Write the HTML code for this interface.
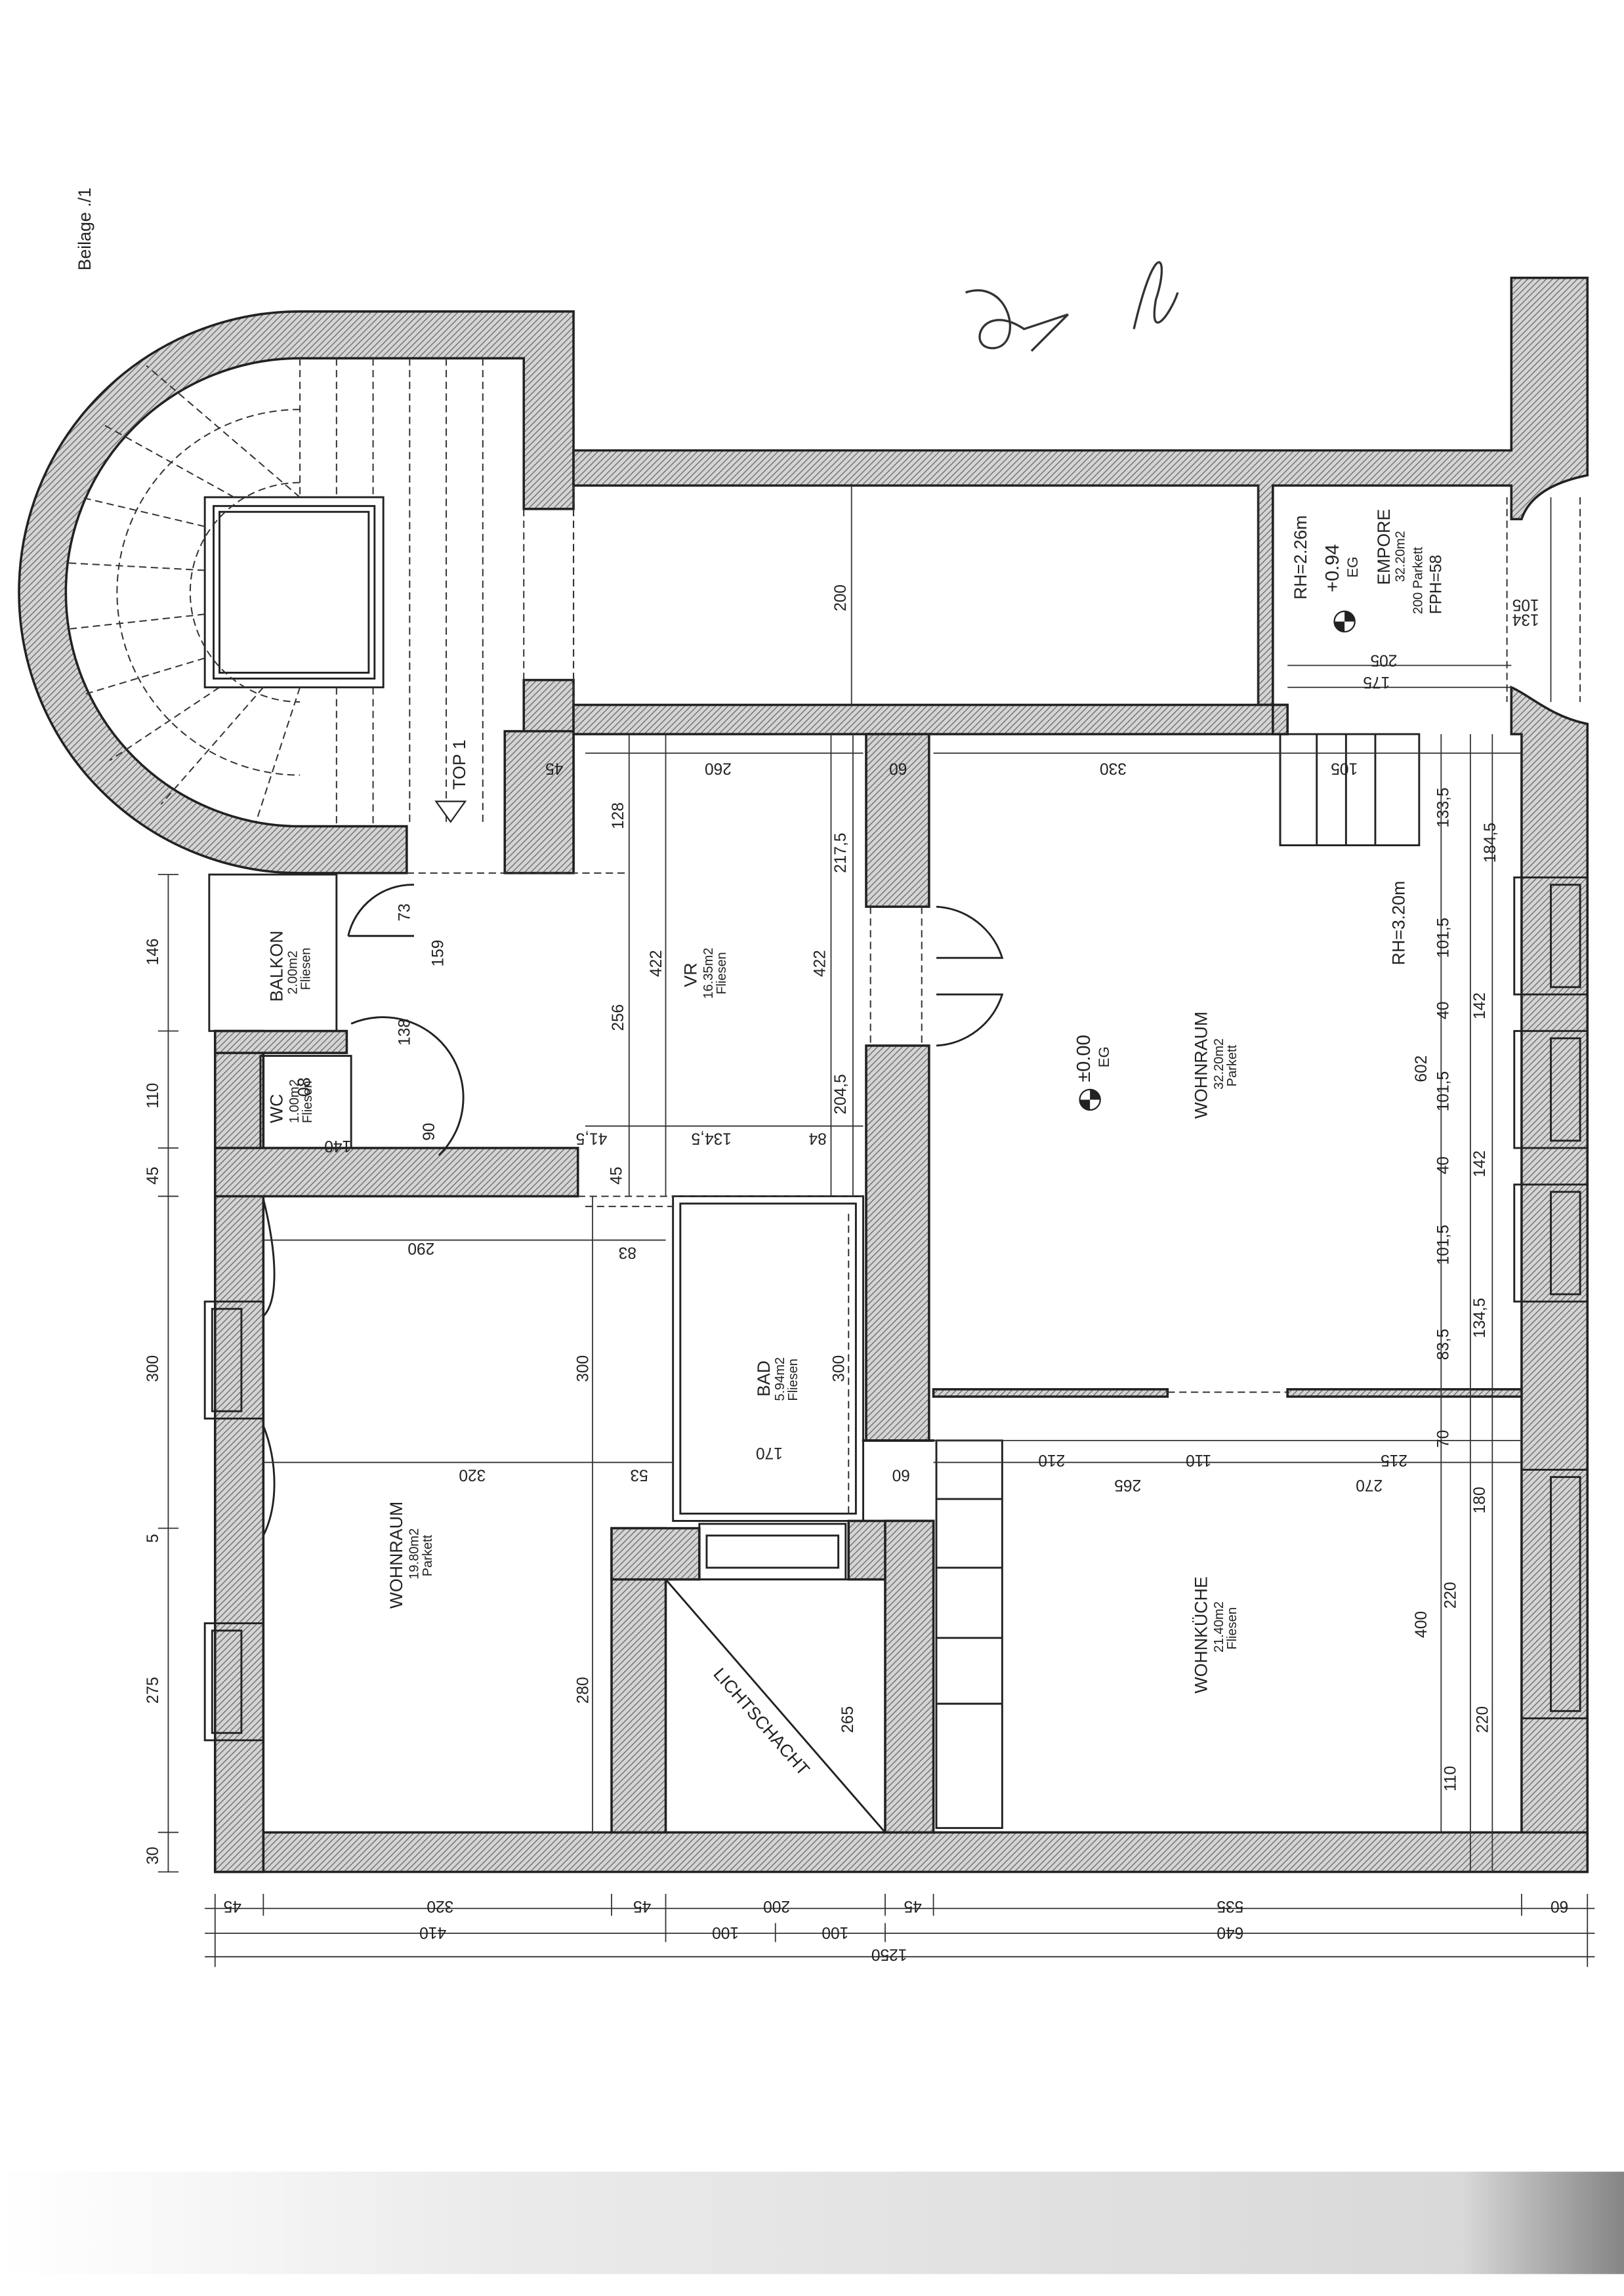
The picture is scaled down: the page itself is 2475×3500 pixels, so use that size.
<!DOCTYPE html>
<html><head><meta charset="utf-8"><style>
html,body{margin:0;padding:0;background:#fff}
svg{display:block}
text{font-family:"Liberation Sans",sans-serif;fill:#222}
</style></head><body>
<svg width="2475" height="3500" viewBox="0 0 1110 1570" preserveAspectRatio="none" xmlns="http://www.w3.org/2000/svg">
<defs>
<pattern id="h" width="3" height="3" patternUnits="userSpaceOnUse" patternTransform="rotate(45)">
<rect width="3" height="3" fill="#d4d4d4"/><line x1="0" y1="0" x2="0" y2="3" stroke="#6a6a6a" stroke-width="1.2"/>
</pattern>
<linearGradient id="g" x1="0" x2="1"><stop offset="0" stop-color="#fff"/><stop offset="0.3" stop-color="#e6e6e6"/><stop offset="0.9" stop-color="#cfcfcf"/><stop offset="1" stop-color="#666"/></linearGradient>
</defs>
<rect width="1110" height="1570" fill="#fff"/>
<rect x="0" y="1485" width="1110" height="70" fill="url(#g)" opacity="0.8"/>
<text transform="translate(62,185) rotate(-90)" font-family="Liberation Mono" font-size="12">Beilage ./1</text>
<!-- signatures -->
<path d="M660,200 C690,190 700,235 680,238 C660,240 670,205 700,225 L730,215 L705,240" fill="none" stroke="#333" stroke-width="1.5"/>
<path d="M775,225 C790,160 800,175 790,205 C785,235 800,215 805,200" fill="none" stroke="#333" stroke-width="1.5"/>

<g fill="url(#h)" stroke="#222" stroke-width="1.6">
<!-- staircase semicircle -->
<path d="M205,213 L392,213 L392,348 L358,348 L358,245 L205,245 A160,160 0 0 0 205,565 L278,565 L278,597 L205,597 A192,192 0 0 1 205,213 Z"/>
<rect x="358" y="465" width="34" height="130"/>
<rect x="345" y="500" width="47" height="97"/>
<!-- corridor walls -->
<path d="M392,308 L1033,308 L1033,190 L1085,190 L1085,325 C1060,330 1045,340 1040,355 L1033,355 L1033,332 L870,332 L870,482 L860,482 L860,332 L392,332 Z"/>
<rect x="392" y="482" width="488" height="20"/>
<rect x="870" y="482" width="10" height="20"/>
<!-- right wall -->
<path d="M1033,470 C1045,475 1060,490 1085,495 L1085,1280 L1040,1280 L1040,502 L1033,502 Z"/>
<!-- bottom wall -->
<rect x="147" y="1253" width="938" height="27"/>
<!-- left wall -->
<rect x="147" y="705" width="33" height="575"/>
<rect x="147" y="785" width="248" height="33"/>
<rect x="147" y="705" width="90" height="15"/>
<!-- VR / wohnraum wall -->
<rect x="592" y="502" width="43" height="118"/>
<rect x="592" y="715" width="43" height="270"/>
<rect x="590" y="985" width="48" height="0.1"/>
<!-- lichtschacht walls -->
<rect x="418" y="1045" width="37" height="208"/>
<rect x="418" y="1045" width="60" height="35"/>
<rect x="580" y="1040" width="58" height="40"/>
<rect x="605" y="1040" width="33" height="213"/>
<!-- divider -->
<rect x="638" y="950" width="160" height="5"/>
<rect x="880" y="950" width="160" height="5"/>
</g>

<g fill="none" stroke="#222" stroke-width="1.3">
<!-- stair hole -->
<rect x="140" y="340" width="122" height="130"/>
<rect x="146" y="346" width="110" height="118"/>
<rect x="150" y="350" width="102" height="110"/>
<!-- balkon -->
<rect x="143" y="598" width="87" height="107"/>
<!-- WC -->
<rect x="178" y="722" width="62" height="63"/>
<!-- bad -->
<rect x="460" y="818" width="130" height="222"/>
<rect x="465" y="823" width="120" height="212"/>
<!-- lichtschacht -->
<rect x="455" y="1080" width="150" height="173"/>
<line x1="455" y1="1080" x2="605" y2="1253"/>
<!-- kitchen counter -->
<rect x="640" y="985" width="45" height="265"/>
<line x1="640" y1="1025" x2="685" y2="1025"/><line x1="640" y1="1072" x2="685" y2="1072"/><line x1="640" y1="1120" x2="685" y2="1120"/><line x1="640" y1="1165" x2="685" y2="1165"/>
<!-- empore stair -->
<rect x="875" y="502" width="95" height="76"/>
<line x1="900" y1="502" x2="900" y2="578"/><line x1="920" y1="502" x2="920" y2="578"/><line x1="940" y1="502" x2="940" y2="578"/>
<line x1="875" y1="515" x2="875" y2="578"/>
<!-- windows right -->
<rect x="1035" y="600" width="50" height="80"/><rect x="1060" y="605" width="20" height="70"/>
<rect x="1035" y="705" width="50" height="80"/><rect x="1060" y="710" width="20" height="70"/>
<rect x="1035" y="810" width="50" height="80"/><rect x="1060" y="815" width="20" height="70"/>
<rect x="1040" y="1005" width="45" height="170"/><rect x="1060" y="1010" width="20" height="160"/>
<!-- windows left -->
<rect x="140" y="890" width="40" height="80"/><rect x="145" y="895" width="20" height="70"/>
<rect x="140" y="1110" width="40" height="80"/><rect x="145" y="1115" width="20" height="70"/>
<rect x="478" y="1042" width="100" height="38"/><rect x="483" y="1050" width="90" height="22"/>
<!-- doors -->
<path d="M640,620 A50,50 0 0 1 685,655 L640,655 M640,715 A50,50 0 0 0 685,680 L640,680"/>
<path d="M238,640 A45,45 0 0 1 283,605 M238,640 L283,640"/>
<path d="M240,700 A55,55 0 0 1 300,790"/>
<path d="M180,820 C190,860 190,890 180,900 M180,975 C190,1000 190,1030 180,1050"/>
</g>
<!-- stair treads -->
<g stroke="#333" stroke-width="0.9" stroke-dasharray="5,3" fill="none">
<path d="M205,280 A125,125 0 0 0 205,530"/>
<path d="M205,330 A75,75 0 0 0 205,480"/>
<line x1="205" y1="245" x2="205" y2="340"/><line x1="230" y1="245" x2="230" y2="340"/><line x1="255" y1="245" x2="255" y2="340"/><line x1="280" y1="245" x2="280" y2="565"/><line x1="305" y1="245" x2="305" y2="565"/><line x1="330" y1="245" x2="330" y2="565"/>
<line x1="205" y1="340" x2="100" y2="250"/><line x1="160" y1="340" x2="70" y2="290"/><line x1="140" y1="360" x2="55" y2="340"/><line x1="140" y1="390" x2="47" y2="385"/><line x1="140" y1="420" x2="48" y2="430"/><line x1="140" y1="450" x2="57" y2="475"/><line x1="150" y1="470" x2="75" y2="520"/><line x1="180" y1="470" x2="110" y2="550"/><line x1="205" y1="470" x2="175" y2="562"/>
<line x1="230" y1="470" x2="230" y2="565"/><line x1="255" y1="470" x2="255" y2="565"/>
<line x1="358" y1="348" x2="358" y2="465"/><line x1="392" y1="348" x2="392" y2="465"/>
<line x1="392" y1="332" x2="392" y2="482"/>
<line x1="278" y1="597" x2="430" y2="597"/>
<line x1="595" y1="620" x2="595" y2="715"/><line x1="630" y1="620" x2="630" y2="715"/>
<line x1="1030" y1="340" x2="1030" y2="480"/><line x1="1080" y1="340" x2="1080" y2="480"/>
<line x1="395" y1="818" x2="590" y2="818"/><line x1="400" y1="825" x2="460" y2="825"/>
<line x1="580" y1="830" x2="580" y2="1035"/>
<line x1="798" y1="952" x2="880" y2="952"/>
</g>
<!-- dimension lines -->
<g stroke="#333" stroke-width="0.8" fill="none">
<line x1="140" y1="1305" x2="1090" y2="1305"/><line x1="140" y1="1322" x2="1090" y2="1322"/><line x1="140" y1="1338" x2="1090" y2="1338"/>
<line x1="147" y1="1295" x2="147" y2="1345"/><line x1="180" y1="1295" x2="180" y2="1310"/><line x1="418" y1="1295" x2="418" y2="1310"/><line x1="455" y1="1295" x2="455" y2="1328"/><line x1="605" y1="1295" x2="605" y2="1310"/><line x1="638" y1="1295" x2="638" y2="1310"/><line x1="1040" y1="1295" x2="1040" y2="1310"/><line x1="1085" y1="1295" x2="1085" y2="1345"/><line x1="530" y1="1315" x2="530" y2="1328"/><line x1="605" y1="1315" x2="605" y2="1328"/>
<line x1="115" y1="598" x2="115" y2="1280"/>
<line x1="108" y1="598" x2="122" y2="598"/><line x1="108" y1="705" x2="122" y2="705"/><line x1="108" y1="785" x2="122" y2="785"/><line x1="108" y1="818" x2="122" y2="818"/><line x1="108" y1="1045" x2="122" y2="1045"/><line x1="108" y1="1253" x2="122" y2="1253"/><line x1="108" y1="1280" x2="122" y2="1280"/>
<line x1="430" y1="502" x2="430" y2="818"/><line x1="455" y1="502" x2="455" y2="818"/><line x1="568" y1="502" x2="568" y2="818"/><line x1="583" y1="502" x2="583" y2="818"/>
<line x1="400" y1="770" x2="590" y2="770"/><line x1="400" y1="515" x2="590" y2="515"/>
<line x1="405" y1="818" x2="405" y2="1253"/><line x1="180" y1="848" x2="455" y2="848"/><line x1="180" y1="1000" x2="460" y2="1000"/>
<line x1="638" y1="515" x2="1040" y2="515"/><line x1="638" y1="985" x2="1040" y2="985"/><line x1="638" y1="1000" x2="1040" y2="1000"/>
<line x1="985" y1="502" x2="985" y2="1253"/><line x1="1005" y1="502" x2="1005" y2="1280"/><line x1="1020" y1="502" x2="1020" y2="1280"/>
<line x1="880" y1="455" x2="1033" y2="455"/><line x1="880" y1="470" x2="1033" y2="470"/>
<line x1="582" y1="332" x2="582" y2="482"/><line x1="860" y1="332" x2="860" y2="482"/>
<line x1="1060" y1="340" x2="1060" y2="480"/>
</g>
<!-- labels -->
<g font-size="11">
<text transform="translate(108,660) rotate(-90)">146</text>
<text transform="translate(108,758) rotate(-90)">110</text>
<text transform="translate(108,810) rotate(-90)">45</text>
<text transform="translate(108,945) rotate(-90)">300</text>
<text transform="translate(108,1055) rotate(-90)">5</text>
<text transform="translate(108,1165) rotate(-90)">275</text>
<text transform="translate(108,1275) rotate(-90)">30</text>
<text transform="translate(165,1300) rotate(180)">45</text>
<text transform="translate(310,1300) rotate(180)">320</text>
<text transform="translate(445,1300) rotate(180)">45</text>
<text transform="translate(540,1300) rotate(180)">200</text>
<text transform="translate(630,1300) rotate(180)">45</text>
<text transform="translate(850,1300) rotate(180)">535</text>
<text transform="translate(1072,1300) rotate(180)">60</text>
<text transform="translate(305,1318) rotate(180)">410</text>
<text transform="translate(505,1318) rotate(180)">100</text>
<text transform="translate(580,1318) rotate(180)">100</text>
<text transform="translate(850,1318) rotate(180)">640</text>
<text transform="translate(620,1333) rotate(180)">1250</text>
<text transform="translate(426,567) rotate(-90)">128</text>
<text transform="translate(426,705) rotate(-90)">256</text>
<text transform="translate(452,668) rotate(-90)">422</text>
<text transform="translate(564,668) rotate(-90)">422</text>
<text transform="translate(578,597) rotate(-90)">217,5</text>
<text transform="translate(578,762) rotate(-90)">204,5</text>
<text transform="translate(303,661) rotate(-90)">159</text>
<text transform="translate(280,630) rotate(-90)">73</text>
<text transform="translate(280,715) rotate(-90)">138</text>
<text transform="translate(297,780) rotate(-90)">90</text>
<text transform="translate(415,775) rotate(180)">41,5</text>
<text transform="translate(500,775) rotate(180)">134,5</text>
<text transform="translate(565,775) rotate(180)">84</text>
<text transform="translate(425,810) rotate(-90)">45</text>
<text transform="translate(240,780) rotate(180)">140</text>
<text transform="translate(297,850) rotate(180)">290</text>
<text transform="translate(435,853) rotate(180)">83</text>
<text transform="translate(402,945) rotate(-90)">300</text>
<text transform="translate(577,945) rotate(-90)">300</text>
<text transform="translate(332,1005) rotate(180)">320</text>
<text transform="translate(443,1005) rotate(180)">53</text>
<text transform="translate(535,990) rotate(180)">170</text>
<text transform="translate(622,1005) rotate(180)">60</text>
<text transform="translate(402,1165) rotate(-90)">280</text>
<text transform="translate(583,1185) rotate(-90)">265</text>
<text transform="translate(500,522) rotate(180)">260</text>
<text transform="translate(385,522) rotate(180)">45</text>
<text transform="translate(620,522) rotate(180)">60</text>
<text transform="translate(770,522) rotate(180)">330</text>
<text transform="translate(578,418) rotate(-90)">200</text>
<text transform="translate(928,522) rotate(180)">105</text>
<text transform="translate(955,448) rotate(180)">205</text>
<text transform="translate(950,463) rotate(180)">175</text>
<text transform="translate(985,420) rotate(-90)">FPH=58</text>
<text transform="translate(1052,410) rotate(180)">105</text>
<text transform="translate(1052,420) rotate(180)">134</text>
<text transform="translate(990,566) rotate(-90)">133,5</text>
<text transform="translate(1022,590) rotate(-90)">184,5</text>
<text transform="translate(990,655) rotate(-90)">101,5</text>
<text transform="translate(990,697) rotate(-90)">40</text>
<text transform="translate(1015,697) rotate(-90)">142</text>
<text transform="translate(975,740) rotate(-90)">602</text>
<text transform="translate(990,760) rotate(-90)">101,5</text>
<text transform="translate(990,803) rotate(-90)">40</text>
<text transform="translate(1015,805) rotate(-90)">142</text>
<text transform="translate(990,865) rotate(-90)">101,5</text>
<text transform="translate(1015,915) rotate(-90)">134,5</text>
<text transform="translate(990,930) rotate(-90)">83,5</text>
<text transform="translate(990,990) rotate(-90)">70</text>
<text transform="translate(728,995) rotate(180)">210</text>
<text transform="translate(828,995) rotate(180)">110</text>
<text transform="translate(962,995) rotate(180)">215</text>
<text transform="translate(780,1012) rotate(180)">265</text>
<text transform="translate(945,1012) rotate(180)">270</text>
<text transform="translate(1015,1035) rotate(-90)">180</text>
<text transform="translate(975,1120) rotate(-90)">400</text>
<text transform="translate(995,1100) rotate(-90)">220</text>
<text transform="translate(1017,1185) rotate(-90)">220</text>
<text transform="translate(995,1225) rotate(-90)">110</text>
</g>
<g font-size="12">
<text transform="translate(193,685) rotate(-90)">BALKON</text>
<text transform="translate(203,680) rotate(-90)" font-size="9">2.00m2</text>
<text transform="translate(212,677) rotate(-90)" font-size="9">Fliesen</text>
<text transform="translate(193,768) rotate(-90)">WC</text>
<text transform="translate(212,750) rotate(-90)">08</text>
<text transform="translate(204,768) rotate(-90)" font-size="9">1.00m2</text>
<text transform="translate(213,768) rotate(-90)" font-size="9">Fliesen</text>
<text transform="translate(476,675) rotate(-90)">VR</text>
<text transform="translate(487,683) rotate(-90)" font-size="9">16.35m2</text>
<text transform="translate(496,680) rotate(-90)" font-size="9">Fliesen</text>
<text transform="translate(526,955) rotate(-90)">BAD</text>
<text transform="translate(536,958) rotate(-90)" font-size="9">5.94m2</text>
<text transform="translate(545,958) rotate(-90)" font-size="9">Fliesen</text>
<text transform="translate(275,1100) rotate(-90)">WOHNRAUM</text>
<text transform="translate(286,1080) rotate(-90)" font-size="9">19.80m2</text>
<text transform="translate(295,1078) rotate(-90)" font-size="9">Parkett</text>
<text transform="translate(825,765) rotate(-90)">WOHNRAUM</text>
<text transform="translate(836,745) rotate(-90)" font-size="9">32.20m2</text>
<text transform="translate(845,743) rotate(-90)" font-size="9">Parkett</text>
<text transform="translate(825,1158) rotate(-90)">WOHNKÜCHE</text>
<text transform="translate(836,1130) rotate(-90)" font-size="9">21.40m2</text>
<text transform="translate(845,1128) rotate(-90)" font-size="9">Fliesen</text>
<text transform="translate(950,400) rotate(-90)">EMPORE</text>
<text transform="translate(960,398) rotate(-90)" font-size="9">32.20m2</text>
<text transform="translate(972,420) rotate(-90)" font-size="9">200  Parkett</text>
<text transform="translate(893,410) rotate(-90)">RH=2.26m</text>
<text transform="translate(960,660) rotate(-90)">RH=3.20m</text>
<text transform="translate(915,405) rotate(-90)" font-size="13">+0.94</text>
<text transform="translate(928,395) rotate(-90)" font-size="10">EG</text>
<text transform="translate(745,740) rotate(-90)" font-size="13">±0.00</text>
<text transform="translate(758,730) rotate(-90)" font-size="10">EG</text>
<text transform="translate(318,540) rotate(-90)">TOP 1</text>
<text transform="translate(487,1145) rotate(49)" font-size="12">LICHTSCHACHT</text>
</g>
<path d="M298,548 L318,548 L308,562 Z" fill="#fff" stroke="#222"/>
<circle cx="919" cy="425" r="7" fill="#fff" stroke="#222"/><path d="M919,418 A7,7 0 0 1 926,425 L919,425 Z M919,432 A7,7 0 0 1 912,425 L919,425 Z" fill="#222"/>
<circle cx="745" cy="752" r="7" fill="#fff" stroke="#222"/><path d="M745,745 A7,7 0 0 1 752,752 L745,752 Z M745,759 A7,7 0 0 1 738,752 L745,752 Z" fill="#222"/>
</svg>
</body></html>
